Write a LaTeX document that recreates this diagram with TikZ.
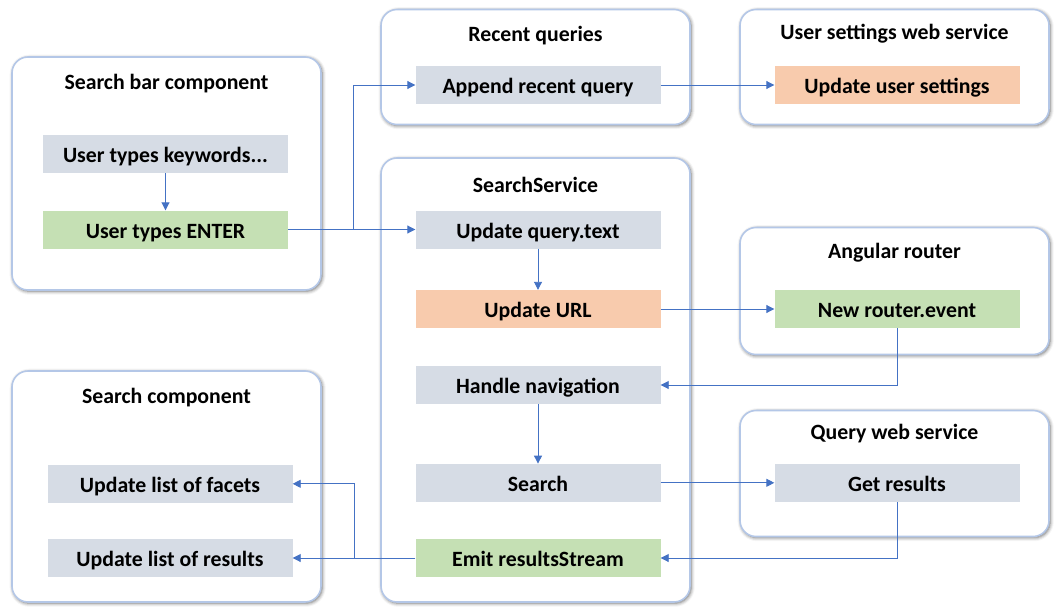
\documentclass[tikz,border=0pt]{standalone}
\usepackage{fontspec}
\setmainfont{Carlito}
\usetikzlibrary{arrows.meta,shadows.blur}
\definecolor{boxgray}{HTML}{D6DCE5}
\definecolor{boxgreen}{HTML}{C5E0B4}
\definecolor{boxorange}{HTML}{F8CBAD}
\definecolor{groupline}{HTML}{B4C7E7}
\definecolor{flowblue}{HTML}{4472C4}

\begin{document}
\begin{tikzpicture}[x=1pt,y=-1pt,font=\fontsize{21.8}{24}\selectfont\bfseries]
\tikzset{GroupStyle/.style ={draw=groupline, line width=1.6pt, rounded corners=16pt, fill=white,
  blur shadow={shadow xshift=1.2pt, shadow yshift=-1.2pt, shadow blur radius=3.5pt, shadow opacity=60}}}
\tikzset{TitleStyle/.style ={text height=17.5pt, text depth=0.5pt, inner sep=0pt}}
\tikzset{StepStyle/.style ={TitleStyle, minimum width=245pt, minimum height=38pt}}
\tikzset{FlowStyle/.style ={-{Triangle[length=8pt,width=8pt]}, draw=flowblue, line width=0.9pt}}
\useasboundingbox (0,0) rectangle (1059,615);
% groups
\node[GroupStyle, minimum width=309pt, minimum height=233pt] (searchBar) at (166.5,173.5) {};
\node[GroupStyle, minimum width=309pt, minimum height=115pt] (recentQueries) at (535.5,67) {};
\node[GroupStyle, minimum width=309pt, minimum height=115pt] (userSettingsWs) at (894.5,67) {};
\node[GroupStyle, minimum width=309pt, minimum height=444pt] (searchService) at (535.5,380) {};
\node[GroupStyle, minimum width=309pt, minimum height=127pt] (angularRouter) at (894.5,291) {};
\node[GroupStyle, minimum width=309pt, minimum height=231pt] (searchComp) at (166.5,486.5) {};
\node[GroupStyle, minimum width=309pt, minimum height=126pt] (queryWs) at (894.5,473.5) {};
% titles
\node[TitleStyle] (searchBarTitle) at (166.5,81.2) {Search bar component};
\node[TitleStyle] (recentQueriesTitle) at (535.5,32.6) {Recent queries};
\node[TitleStyle] (userSettingsWsTitle) at (894.5,31) {User settings web service};
\node[TitleStyle] (searchServiceTitle) at (535.5,183.6) {SearchService};
\node[TitleStyle] (angularRouterTitle) at (894.5,249.6) {Angular router};
\node[TitleStyle] (searchCompTitle) at (166.5,394.6) {Search component};
\node[TitleStyle] (queryWsTitle) at (894.5,431.1) {Query web service};
% steps
\node[StepStyle, fill=boxgray] (keywords) at (165.5,153.8) {User types keywords...};
\node[StepStyle, fill=boxgreen] (enter) at (165.5,229.5) {User types ENTER};
\node[StepStyle, fill=boxgray] (appendQuery) at (538,85) {Append recent query};
\node[StepStyle, fill=boxorange] (userSettings) at (897,85) {Update user settings};
\node[StepStyle, fill=boxgray] (queryText) at (538,229.5) {Update query.text};
\node[StepStyle, fill=boxorange] (updateUrl) at (538,309) {Update URL};
\node[StepStyle, fill=boxgreen] (routerEvent) at (897,309) {New router.event};
\node[StepStyle, fill=boxgray] (handleNav) at (538,385) {Handle navigation};
\node[StepStyle, fill=boxgray] (search) at (538,482.8) {Search};
\node[StepStyle, fill=boxgray] (getResults) at (897,482.8) {Get results};
\node[StepStyle, fill=boxgreen] (emitResults) at (538,558) {Emit resultsStream};
\node[StepStyle, fill=boxgray] (facets) at (170,483.8) {Update list of facets};
\node[StepStyle, fill=boxgray] (results) at (170,558) {Update list of results};
% flow
\coordinate (enterSplit) at (353,229.5);
\coordinate (emitSplit) at (354,558);
\draw[FlowStyle] (keywords) -- (enter);
\draw[FlowStyle] (enter) -- (queryText);
\draw[FlowStyle] (enterSplit) |- (appendQuery);
\draw[FlowStyle] (appendQuery) -- (userSettings);
\draw[FlowStyle] (queryText) -- (updateUrl);
\draw[FlowStyle] (updateUrl) -- (routerEvent);
\draw[FlowStyle] (routerEvent.south) |- (handleNav.east);
\draw[FlowStyle] (handleNav) -- (search);
\draw[FlowStyle] (search) -- (getResults);
\draw[FlowStyle] (getResults.south) |- (emitResults.east);
\draw[FlowStyle] (emitResults) -- (results);
\draw[FlowStyle] (emitSplit) |- (facets.east);
\end{tikzpicture}
\end{document}
